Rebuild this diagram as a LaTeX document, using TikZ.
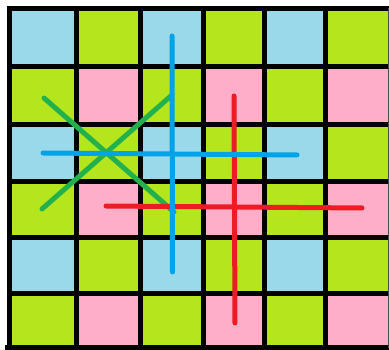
\documentclass[tikz,border=0pt]{standalone}
\definecolor{cellblue}{HTML}{99D9EA}
\definecolor{cellgreen}{HTML}{B5E61D}
\definecolor{cellpink}{HTML}{FFAEC9}
\definecolor{penblue}{HTML}{00A2E8}
\definecolor{pengreen}{HTML}{22B14C}
\definecolor{penred}{HTML}{ED1C24}
\tikzset{
  gridline/.style={line width=5pt, black},
  stroke/.style={line width=5pt, line cap=round, line join=round},
}
\begin{document}
\begin{tikzpicture}[x=1pt,y=-1pt]
\useasboundingbox (0,0) rectangle (389,350);
\fill[white] (0,0) rectangle (389,350);
% column and row boundaries
\def\xs{{9,76.5,140.5,203.5,264,325,388.5}}
\def\ys{{8.5,66.7,125,181.7,237.7,293.5,347.5}}
\foreach \r in {0,...,5}{
  \foreach \c in {0,...,5}{
    \pgfmathsetmacro{\xa}{\xs[\c]}
    \pgfmathsetmacro{\xb}{\xs[\c+1]}
    \pgfmathsetmacro{\ya}{\ys[\r]}
    \pgfmathsetmacro{\yb}{\ys[\r+1]}
    \pgfmathtruncatemacro{\rp}{mod(\r,2)}
    \pgfmathtruncatemacro{\cp}{mod(\c,2)}
    \ifnum\rp=0
      \ifnum\cp=0 \def\cc{cellblue}\else\def\cc{cellgreen}\fi
    \else
      \ifnum\cp=0 \def\cc{cellgreen}\else\def\cc{cellpink}\fi
    \fi
    \fill[\cc] (\xa,\ya) rectangle (\xb,\yb);
  }
}
% grid lines
\foreach \x in {9,76.5,140.5,203.5,264,325}{
  \draw[gridline] (\x,6) -- (\x,350);
}
\foreach \y in {8.5,66.7,125,181.7,237.7,293.5}{
  \draw[gridline] (6.5,\y) -- (389,\y);
}
\draw[line width=5pt] (5,348) -- (389,348);
\draw[line width=1pt, black!70] (388.5,8.5) -- (388.5,348);
% pen strokes
\coordinate (g1a) at (44,98);
\coordinate (g1b) at (174,212);
\coordinate (g2a) at (172,95);
\coordinate (g2b) at (42,209);
\coordinate (rva) at (234,96);
\coordinate (rvb) at (235,323);
\coordinate (rha) at (106,206);
\coordinate (rhb) at (362,208);
\coordinate (bha) at (43,153);
\coordinate (bhb) at (297,155);
\coordinate (bva) at (172,36);
\coordinate (bvb) at (172.5,272);
\draw[stroke, pengreen] (g1a) -- (g1b);
\draw[stroke, pengreen] (g2a) -- (g2b);
\draw[stroke, penred] (rva) -- (rvb);
\draw[stroke, penred] (rha) -- (rhb);
\draw[stroke, penblue] (bha) -- (bhb);
\draw[stroke, penblue] (bva) -- (bvb);
\end{tikzpicture}
\end{document}
